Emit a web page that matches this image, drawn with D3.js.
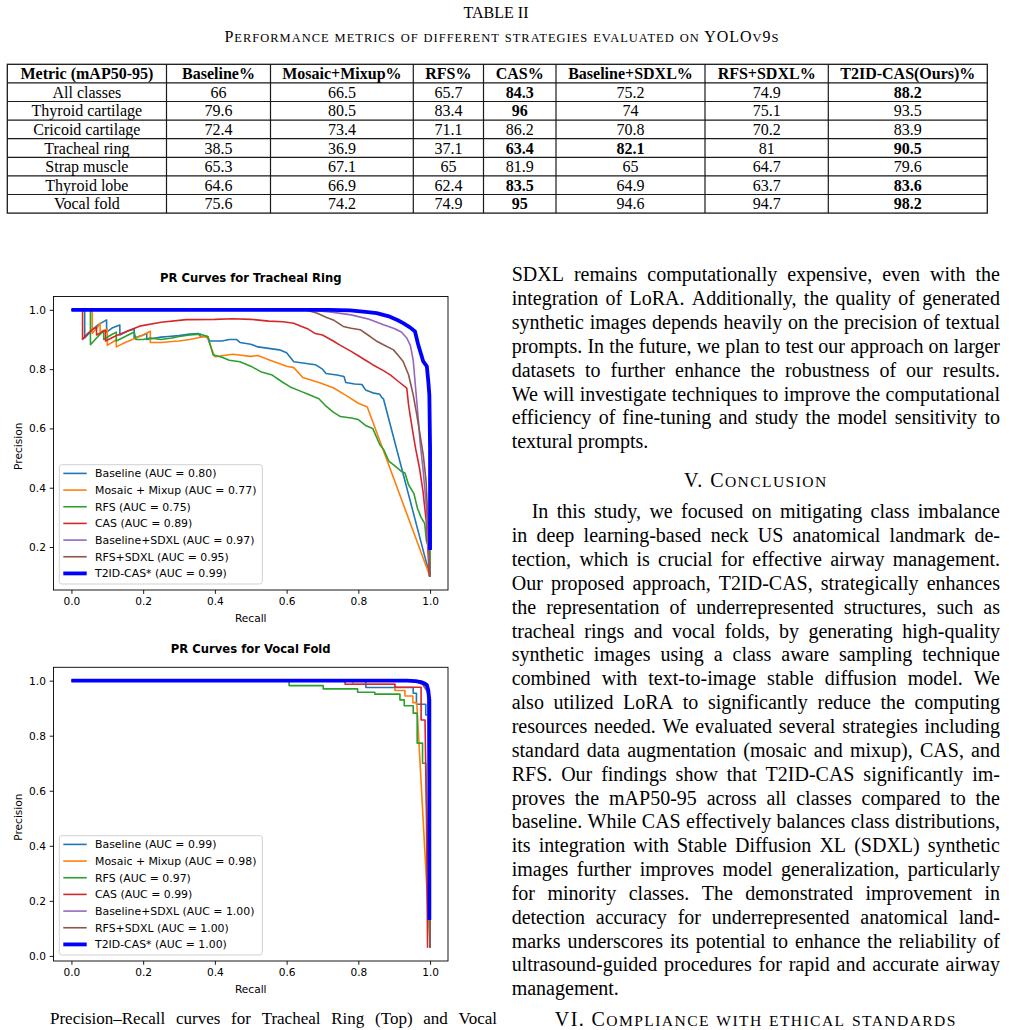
<!DOCTYPE html>
<html><head><meta charset="utf-8">
<script src="https://cdn.jsdelivr.net/npm/d3@7"></script>
<style>
html,body{margin:0;padding:0;background:#fff;overflow:hidden}
svg{display:block}
</style></head><body>
<svg id="page" width="1009" height="1030"></svg>
<script>
// ---------------- DATA ----------------
const tableTitle = "TABLE II";
const tableCaption = "Performance metrics of different strategies evaluated on YOLOv9s";
const tableColumns = ["Metric (mAP50-95)","Baseline%","Mosaic+Mixup%","RFS%","CAS%","Baseline+SDXL%","RFS+SDXL%","T2ID-CAS(Ours)%"];
const tableRows = ["All classes","Thyroid cartilage","Cricoid cartilage","Tracheal ring","Strap muscle","Thyroid lobe","Vocal fold"];
const tableValues = [
  [66, 66.5, 65.7, 84.3, 75.2, 74.9, 88.2],
  [79.6, 80.5, 83.4, 96, 74, 75.1, 93.5],
  [72.4, 73.4, 71.1, 86.2, 70.8, 70.2, 83.9],
  [38.5, 36.9, 37.1, 63.4, 82.1, 81, 90.5],
  [65.3, 67.1, 65, 81.9, 65, 64.7, 79.6],
  [64.6, 66.9, 62.4, 83.5, 64.9, 63.7, 83.6],
  [75.6, 74.2, 74.9, 95, 94.6, 94.7, 98.2]
];
const tableBold = [[3,6],[3],[],[3,4,6],[],[3,6],[3,6]];

const seriesNames = ["Baseline","Mosaic + Mixup","RFS","CAS","Baseline+SDXL","RFS+SDXL","T2ID-CAS*"];
const aucTracheal = ["0.80","0.77","0.75","0.89","0.97","0.95","0.99"];
const aucVocal = ["0.99","0.98","0.97","0.99","1.00","1.00","1.00"];
const xTicks = [0,0.2,0.4,0.6,0.8,1.0];
const yTicksTracheal = [0.2,0.4,0.6,0.8,1.0];
const yTicksVocal = [0,0.2,0.4,0.6,0.8,1.0];

// Tracheal ring PR curves [recall, precision]
const trBaseline = [[0,1],[0.037,1],[0.037,0.905],[0.06,0.935],[0.075,0.95],[0.098,0.966],[0.098,0.925],[0.115,0.94],[0.135,0.949],[0.135,0.915],[0.16,0.93],[0.175,0.935],[0.175,0.905],[0.2,0.915],[0.21,0.92],[0.21,0.9],[0.25,0.908],[0.27,0.91],[0.3,0.913],[0.33,0.918],[0.355,0.92],[0.36,0.91],[0.38,0.91],[0.385,0.895],[0.42,0.895],[0.44,0.9],[0.46,0.9],[0.47,0.89],[0.5,0.884],[0.52,0.875],[0.55,0.87],[0.58,0.865],[0.6,0.855],[0.61,0.84],[0.62,0.825],[0.65,0.82],[0.68,0.815],[0.7,0.8],[0.71,0.785],[0.74,0.78],[0.76,0.775],[0.765,0.755],[0.79,0.75],[0.81,0.748],[0.82,0.73],[0.84,0.72],[0.86,0.715],[0.865,0.705],[0.87,0.7],[1.0,0.1]];
const trMosaic = [[0,1],[0.058,1],[0.058,0.92],[0.075,0.945],[0.08,0.955],[0.08,0.925],[0.1,0.935],[0.1,0.88],[0.12,0.895],[0.125,0.9],[0.125,0.875],[0.15,0.89],[0.17,0.9],[0.2,0.915],[0.22,0.928],[0.22,0.89],[0.25,0.89],[0.28,0.893],[0.3,0.895],[0.33,0.9],[0.37,0.91],[0.38,0.905],[0.39,0.87],[0.4,0.842],[0.45,0.85],[0.5,0.843],[0.52,0.846],[0.55,0.832],[0.6,0.81],[0.62,0.805],[0.645,0.772],[0.69,0.755],[0.73,0.737],[0.77,0.708],[0.8,0.685],[0.825,0.672],[1.0,0.1]];
const trRFS = [[0,1],[0.053,1],[0.053,0.882],[0.07,0.905],[0.09,0.93],[0.09,0.9],[0.11,0.915],[0.125,0.925],[0.125,0.895],[0.15,0.91],[0.175,0.925],[0.18,0.9],[0.2,0.9],[0.22,0.905],[0.25,0.9],[0.28,0.905],[0.3,0.91],[0.33,0.915],[0.36,0.918],[0.38,0.91],[0.39,0.87],[0.395,0.848],[0.42,0.84],[0.44,0.83],[0.47,0.825],[0.5,0.81],[0.53,0.79],[0.56,0.78],[0.59,0.755],[0.61,0.74],[0.64,0.725],[0.66,0.715],[0.69,0.7],[0.71,0.675],[0.73,0.655],[0.75,0.64],[0.78,0.635],[0.8,0.63],[0.82,0.61],[0.84,0.6],[0.86,0.545],[0.87,0.53],[0.885,0.49],[0.9,0.475],[0.92,0.455],[0.93,0.45],[0.94,0.41],[0.955,0.38],[0.965,0.33],[0.975,0.3],[0.985,0.28],[0.99,0.22],[1.0,0.19],[1.0,0.1]];
const trCAS = [[0,1],[0.031,1],[0.031,0.9],[0.045,0.92],[0.06,0.935],[0.07,0.94],[0.07,0.915],[0.085,0.925],[0.095,0.93],[0.095,0.895],[0.12,0.91],[0.15,0.925],[0.19,0.945],[0.25,0.958],[0.32,0.967],[0.4,0.968],[0.45,0.97],[0.5,0.968],[0.55,0.962],[0.59,0.96],[0.62,0.955],[0.64,0.945],[0.66,0.935],[0.68,0.92],[0.7,0.915],[0.73,0.895],[0.75,0.88],[0.78,0.86],[0.8,0.845],[0.82,0.83],[0.84,0.815],[0.87,0.795],[0.89,0.78],[0.91,0.76],[0.935,0.736],[0.94,0.68],[0.945,0.64],[0.953,0.58],[0.96,0.53],[0.97,0.47],[0.98,0.39],[0.99,0.28],[0.998,0.1]];
const trBaseSDXL = [[0,1],[0.66,1],[0.72,0.993],[0.78,0.983],[0.83,0.968],[0.87,0.95],[0.9,0.937],[0.92,0.925],[0.935,0.905],[0.945,0.88],[0.953,0.83],[0.958,0.76],[0.963,0.69],[0.968,0.62],[0.972,0.556],[0.981,0.455],[0.99,0.33],[0.995,0.2],[1.0,0.1]];
const trRFSSDXL = [[0,1],[0.65,1],[0.684,0.989],[0.71,0.975],[0.73,0.966],[0.758,0.944],[0.78,0.938],[0.805,0.933],[0.833,0.91],[0.85,0.895],[0.87,0.882],[0.898,0.865],[0.912,0.845],[0.925,0.826],[0.94,0.781],[0.953,0.713],[0.963,0.646],[0.972,0.579],[0.981,0.511],[0.989,0.421],[0.995,0.265],[1.0,0.1]];
const trT2ID = [[0,1],[0.72,1],[0.777,0.998],[0.82,0.993],[0.851,0.989],[0.888,0.977],[0.91,0.965],[0.925,0.955],[0.945,0.94],[0.958,0.927],[0.967,0.882],[0.975,0.85],[0.981,0.826],[0.991,0.809],[0.995,0.76],[0.998,0.713],[1.0,0.535],[1.0,0.19]];

// Vocal fold PR curves [recall, precision]
const vfBaseline = [[0,1],[0.821,1],[0.821,0.975],[0.953,0.975],[0.953,0.954],[0.962,0.954],[0.962,0.914],[0.988,0.914],[0.988,0.875],[0.995,0.875],[1.0,0.03]];
const vfMosaic = [[0,1],[0.784,1],[0.784,0.987],[0.902,0.987],[0.902,0.964],[0.93,0.964],[0.93,0.944],[0.952,0.944],[0.952,0.92],[0.963,0.92],[1.0,0.03]];
const vfRFS = [[0,1],[0.607,1],[0.607,0.982],[0.702,0.982],[0.702,0.97],[0.798,0.97],[0.798,0.958],[0.846,0.958],[0.846,0.951],[0.916,0.951],[0.916,0.93],[0.928,0.93],[0.928,0.909],[0.953,0.909],[0.953,0.882],[0.964,0.882],[0.964,0.773],[0.979,0.773],[0.979,0.70],[0.988,0.70],[1.0,0.03]];
const vfCAS = [[0,1],[0.763,1],[0.763,0.987],[0.902,0.987],[0.902,0.976],[0.975,0.976],[0.975,0.857],[0.986,0.857],[0.99,0.5],[0.993,0.03]];
const vfBaseSDXL = [[0,1],[0.94,1],[0.97,0.995],[0.985,0.985],[0.993,0.97],[1.0,0.13],[1.0,0.03]];
const vfRFSSDXL = [[0,1],[0.93,1],[0.965,0.995],[0.98,0.985],[0.99,0.965],[0.995,0.95],[1.0,0.12],[1.0,0.03]];
const vfT2ID = [[0,1],[0.935,1],[0.96,0.998],[0.975,0.995],[0.985,0.99],[0.991,0.984],[0.995,0.965],[0.998,0.93],[0.998,0.13]];

const bodyLines1 = [
 "SDXL remains computationally expensive, even with the",
 "integration of LoRA. Additionally, the quality of generated",
 "synthetic images depends heavily on the precision of textual",
 "prompts. In the future, we plan to test our approach on larger",
 "datasets to further enhance the robustness of our results.",
 "We will investigate techniques to improve the computational",
 "efficiency of fine-tuning and study the model sensitivity to",
 "textural prompts."
];
const heading1 = "V. Conclusion";
const bodyLines2 = [
 "In this study, we focused on mitigating class imbalance",
 "in deep learning-based neck US anatomical landmark de-",
 "tection, which is crucial for effective airway management.",
 "Our proposed approach, T2ID-CAS, strategically enhances",
 "the representation of underrepresented structures, such as",
 "tracheal rings and vocal folds, by generating high-quality",
 "synthetic images using a class aware sampling technique",
 "combined with text-to-image stable diffusion model. We",
 "also utilized LoRA to significantly reduce the computing",
 "resources needed. We evaluated several strategies including",
 "standard data augmentation (mosaic and mixup), CAS, and",
 "RFS. Our findings show that T2ID-CAS significantly im-",
 "proves the mAP50-95 across all classes compared to the",
 "baseline. While CAS effectively balances class distributions,",
 "its integration with Stable Diffusion XL (SDXL) synthetic",
 "images further improves model generalization, particularly",
 "for minority classes. The demonstrated improvement in",
 "detection accuracy for underrepresented anatomical land-",
 "marks underscores its potential to enhance the reliability of",
 "ultrasound-guided procedures for rapid and accurate airway",
 "management."
];
const heading2 = "VI. Compliance with ethical standards";
const figCaption = "Precision–Recall curves for Tracheal Ring (Top) and Vocal";

// ---------------- STYLES ----------------
const seriesColors = ["#1f77b4","#ff7f0e","#2ca02c","#d62728","#9467bd","#8c564b","#0000ff"];
const seriesWidths = [1.6,1.6,1.6,1.6,1.6,1.6,3.8];
const SERIF = "'Liberation Serif','Times New Roman',serif";
const SANS = "'DejaVu Sans',sans-serif";

const svg = d3.select("#page");

// ---------- helpers ----------
function smallCaps(textSel, str, size, ratio) {
  let runs = [];
  for (const ch of str) {
    const small = ch >= 'a' && ch <= 'z';
    const s = small ? size*ratio : size;
    const c = small ? ch.toUpperCase() : ch;
    if (runs.length && runs[runs.length-1].s === s) runs[runs.length-1].t += c;
    else runs.push({s, t:c});
  }
  runs.forEach(r => textSel.append("tspan").style("font-size", r.s+"px").text(r.t));
}
function textLine(g, str, x0, x1, y, justify, size) {
  const words = str.split(" ");
  const t = g.append("text").attr("y", y)
    .style("font-family", SERIF).style("font-size", size+"px").attr("fill","#000");
  const spans = words.map(w => t.append("tspan").text(w));
  const widths = spans.map(s => s.node().getComputedTextLength());
  const total = d3.sum(widths);
  const gap = (justify && words.length > 1) ? (x1 - x0 - total)/(words.length-1) : size*0.25;
  let x = x0;
  spans.forEach((s,i) => { s.attr("x", x); x += widths[i] + gap; });
}

// ---------- TABLE ----------
const colX = [7.3,166.5,270.5,413.3,483.5,556,705,828.3,987.3];
const tTop = 64.3, rowH = 18.6;
const tg = svg.append("g");
tg.append("text").attr("x",496).attr("y",18.2).attr("text-anchor","middle")
  .style("font-family",SERIF).style("font-size","16px").text(tableTitle);
const cap = tg.append("text").attr("x",502).attr("y",41.5).attr("text-anchor","middle")
  .style("font-family",SERIF).style("letter-spacing","1px");
smallCaps(cap, tableCaption, 16, 0.78);

const nRows = tableRows.length + 1;
const yRow = d3.scaleLinear().domain([0,nRows]).range([tTop, tTop + nRows*rowH]);
tg.append("rect").attr("x",colX[0]).attr("y",yRow(0)).attr("width",colX[8]-colX[0])
  .attr("height",yRow(nRows)-yRow(0)).attr("fill","none").attr("stroke","#1a1a1a").attr("stroke-width",1.3);
d3.range(1,nRows).forEach(i => tg.append("line").attr("x1",colX[0]).attr("x2",colX[8])
  .attr("y1",yRow(i)).attr("y2",yRow(i)).attr("stroke","#1a1a1a").attr("stroke-width",1.2));
d3.range(1,8).forEach(j => tg.append("line").attr("x1",colX[j]).attr("x2",colX[j])
  .attr("y1",yRow(0)).attr("y2",yRow(nRows)).attr("stroke","#1a1a1a").attr("stroke-width",1.2));
tableColumns.forEach((c,j) => tg.append("text").attr("x",(colX[j]+colX[j+1])/2)
  .attr("y",(yRow(0)+yRow(1))/2).attr("dy","0.35em").attr("text-anchor","middle")
  .style("font-family",SERIF).style("font-size","16px").style("font-weight","bold").text(c));
tableRows.forEach((r,i) => {
  const yc = (yRow(i+1)+yRow(i+2))/2;
  tg.append("text").attr("x",(colX[0]+colX[1])/2).attr("y",yc).attr("dy","0.35em")
    .attr("text-anchor","middle").style("font-family",SERIF).style("font-size","16px").text(r);
  tableValues[i].forEach((v,j) => tg.append("text").attr("x",(colX[j+1]+colX[j+2])/2)
    .attr("y",yc).attr("dy","0.35em").attr("text-anchor","middle")
    .style("font-family",SERIF).style("font-size","16px")
    .style("font-weight", tableBold[i].includes(j) ? "bold" : "normal").text(String(v)));
});

// ---------- CHARTS ----------
function drawChart(cfg) {
  const g = svg.append("g");
  const x = d3.scaleLinear().domain([-0.05,1.05]).range([cfg.left, cfg.right]);
  const y = d3.scaleLinear().domain(cfg.yDomain).range([cfg.bottom, cfg.top]);
  const ax = g.append("g").attr("transform",`translate(0,${cfg.bottom})`)
    .call(d3.axisBottom(x).tickValues(xTicks).tickFormat(d3.format(".1f")).tickSize(3.8).tickPadding(3.6).tickSizeOuter(0));
  const ay = g.append("g").attr("transform",`translate(${cfg.left},0)`)
    .call(d3.axisLeft(y).tickValues(cfg.yTicks).tickFormat(d3.format(".1f")).tickSize(3.8).tickPadding(3.8).tickSizeOuter(0));
  [ax,ay].forEach(a => {
    a.select(".domain").remove();
    a.selectAll("line").attr("stroke","#000").attr("stroke-width",0.9);
    a.selectAll("text").style("font-family",SANS).style("font-size","10.6px").attr("fill","#000");
  });
  const line = d3.line().x(d => x(d[0])).y(d => y(d[1]));
  cfg.series.forEach((s,i) => g.append("path").datum(s).attr("d",line).attr("fill","none")
    .attr("stroke",seriesColors[i]).attr("stroke-width",seriesWidths[i]).attr("stroke-linejoin","round"));
  g.append("rect").attr("x",cfg.left).attr("y",cfg.top).attr("width",cfg.right-cfg.left)
    .attr("height",cfg.bottom-cfg.top).attr("fill","none").attr("stroke","#000").attr("stroke-width",0.9);
  g.append("text").attr("x",(cfg.left+cfg.right)/2).attr("y",cfg.top-18.4).attr("dy","0.35em")
    .attr("text-anchor","middle").style("font-family",SANS).style("font-size","11.6px")
    .style("font-weight","bold").text(cfg.title);
  g.append("text").attr("x",(cfg.left+cfg.right)/2).attr("y",cfg.bottom+28.3).attr("dy","0.35em")
    .attr("text-anchor","middle").style("font-family",SANS).style("font-size","10.6px").text("Recall");
  g.append("text").attr("transform",`translate(18.3,${(cfg.top+cfg.bottom)/2+3}) rotate(-90)`).attr("dy","0.35em")
    .attr("text-anchor","middle").style("font-family",SANS).style("font-size","10.6px").text("Precision");
  const lw = 203, lh = 119.3, lx = cfg.left + 5.8, ly = cfg.bottom - 6 - lh;
  const lg = g.append("g");
  lg.append("rect").attr("x",lx).attr("y",ly).attr("width",lw).attr("height",lh).attr("rx",2.5)
    .attr("fill","#fff").attr("fill-opacity",0.8).attr("stroke","#cccccc").attr("stroke-width",0.9);
  seriesNames.forEach((n,i) => {
    const yy = ly + 8.7 + i*16.67;
    lg.append("line").attr("x1",lx+4).attr("x2",lx+27.4).attr("y1",yy).attr("y2",yy)
      .attr("stroke",seriesColors[i]).attr("stroke-width",seriesWidths[i]);
    lg.append("text").attr("x",lx+35.7).attr("y",yy).attr("dy","0.35em")
      .style("font-family",SANS).style("font-size","10.9px").text(`${n} (AUC = ${cfg.auc[i]})`);
  });
}

drawChart({title:"PR Curves for Tracheal Ring", left:53.5, right:448, top:296.5, bottom:590,
  yDomain:[0.055,1.045], yTicks:yTicksTracheal, auc:aucTracheal,
  series:[trBaseline,trMosaic,trRFS,trCAS,trBaseSDXL,trRFSSDXL,trT2ID]});
drawChart({title:"PR Curves for Vocal Fold", left:53.5, right:448, top:667.3, bottom:961,
  yDomain:[-0.0185,1.0485], yTicks:yTicksVocal, auc:aucVocal,
  series:[vfBaseline,vfMosaic,vfRFS,vfCAS,vfBaseSDXL,vfRFSSDXL,vfT2ID]});

// ---------- BODY TEXT ----------
const bg = svg.append("g");
const cL = 511.7, cR = 1000;
bodyLines1.forEach((s,i) => textLine(bg, s, cL, cR, 281 + i*23.9, i < bodyLines1.length-1, 20));
const h1 = bg.append("text").attr("x",(cL+cR)/2).attr("y",487).attr("text-anchor","middle")
  .style("font-family",SERIF).style("letter-spacing","1.4px");
smallCaps(h1, heading1, 20, 0.78);
bodyLines2.forEach((s,i) => textLine(bg, s, i===0 ? 531.7 : cL, cR, 518.3 + i*23.85, i < bodyLines2.length-1, 20));
const h2 = bg.append("text").attr("x",(cL+cR)/2).attr("y",1026).attr("text-anchor","middle")
  .style("font-family",SERIF).style("letter-spacing","1.4px");
smallCaps(h2, heading2, 20, 0.78);
textLine(bg, figCaption, 50, 497, 1024, true, 17);
</script>
</body></html>
